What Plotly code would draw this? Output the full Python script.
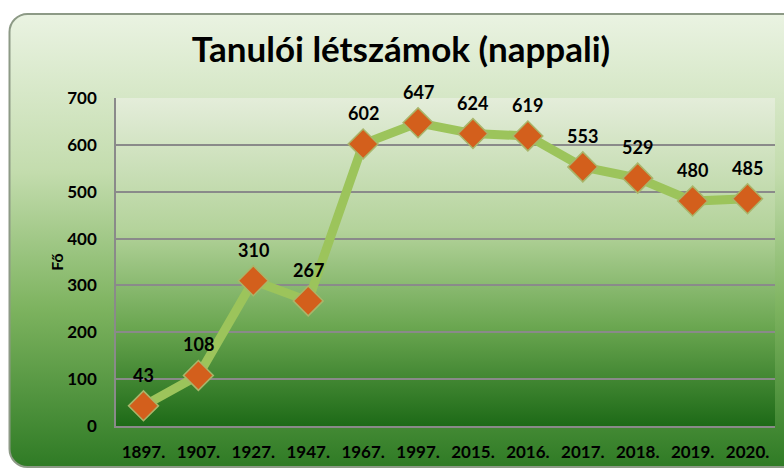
import base64
import plotly.graph_objects as go

years = ["1897.", "1907.", "1927.", "1947.", "1967.", "1997.", "2015.", "2016.", "2017.", "2018.", "2019.", "2020."]
students = [43, 108, 310, 267, 602, 647, 624, 619, 553, 529, 480, 485]
y_ticks = [0, 100, 200, 300, 400, 500, 600, 700]

W, H = 784, 470
L, R, T, B = 116, 9, 98, 44
PW, PH = W - L - R, H - T - B

svg = f'''<svg xmlns="http://www.w3.org/2000/svg" width="{W}" height="{H}" viewBox="0 0 {W} {H}">
<defs>
<linearGradient id="pg" x1="0" y1="0" x2="0" y2="1">
<stop offset="0" stop-color="#eaf3e2"/>
<stop offset="0.35" stop-color="#c3dcad"/>
<stop offset="0.65" stop-color="#7db35f"/>
<stop offset="1" stop-color="#2f7b25"/>
</linearGradient>
<linearGradient id="ag" x1="0" y1="0" x2="0" y2="1">
<stop offset="0" stop-color="#e4edda"/>
<stop offset="0.4" stop-color="#b4d39b"/>
<stop offset="0.7" stop-color="#6aa650"/>
<stop offset="1" stop-color="#1d6a17"/>
</linearGradient>
</defs>
<rect x="0" y="0" width="{W}" height="{H}" fill="#ffffff"/>
<rect x="9.5" y="14" width="{W+20}" height="453" rx="18" ry="18" fill="url(#pg)" stroke="#8d9a86" stroke-width="2"/>
<rect x="{L}" y="{T}" width="{PW}" height="{PH}" fill="url(#ag)"/>
</svg>'''
src = "data:image/svg+xml;base64," + base64.b64encode(svg.encode()).decode()

FONT = "Lato"

fig = go.Figure()
fig.add_trace(go.Scatter(
    x=years, y=students, mode="lines+markers",
    line=dict(color="#9cc45b", width=9),
    marker=dict(symbol="diamond", size=23, color="#d35f1c",
                line=dict(color="#a9b56a", width=1.5)),
    hoverinfo="x+y", showlegend=False,
))

for i, yv in enumerate(students):
    fig.add_annotation(x=i, y=yv, xref="x", yref="y", text=str(yv), showarrow=False, yshift=31,
                       font=dict(family=FONT, size=18, color="#000000", weight="bold"))

fig.update_layout(
    width=W, height=H,
    margin=dict(l=L, r=R, t=T, b=B),
    paper_bgcolor="#ffffff",
    plot_bgcolor="rgba(0,0,0,0)",
    images=[dict(source=src, xref="paper", yref="paper",
                 x=-L / PW, y=1 + T / PH, sizex=W / PW, sizey=H / PH,
                 xanchor="left", yanchor="top", sizing="stretch", layer="below")],
    title=dict(text="Tanulói létszámok (nappali)", x=401 / W, xanchor="center",
               y=1 - 50 / H, yanchor="middle",
               font=dict(family=FONT, size=35, color="#000000", weight="bold")),
    xaxis=dict(
        type="category", categoryorder="array", categoryarray=years, range=[-0.5, len(years) - 0.5],
        showgrid=False, showline=True, linecolor="#8a8a8a", linewidth=1.5,
        ticks="", tickfont=dict(family=FONT, size=17, color="#000000", weight="bold"),
        ticklabelstandoff=10,
    ),
    yaxis=dict(
        range=[0, 700], tickvals=y_ticks, showgrid=True, gridcolor="#8a8a8a", gridwidth=1.5,
        showline=True, linecolor="#8a8a8a", linewidth=1.5, zeroline=False, ticks="",
        tickfont=dict(family=FONT, size=17, color="#000000", weight="bold"),
        ticklabelstandoff=14,
        title=dict(text="Fő", standoff=0,
                   font=dict(family=FONT, size=16, color="#000000", weight="bold")),
    ),
)

fig.write_html("out.html", config={"displayModeBar": False},
               post_script="document.body.style.margin='0';document.body.style.overflow='hidden';")
